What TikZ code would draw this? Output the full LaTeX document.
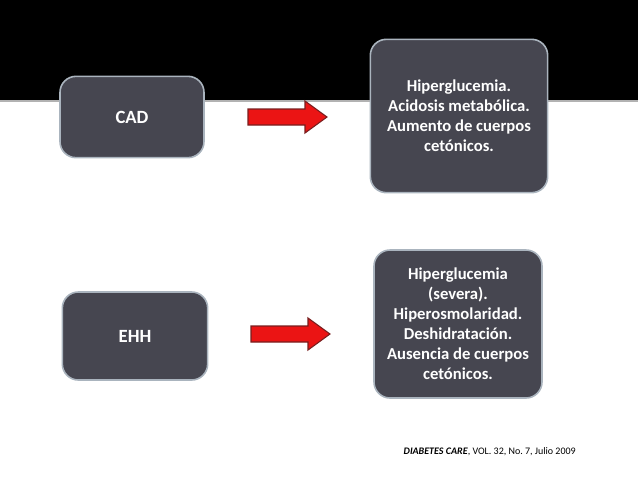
\documentclass[tikz,border=0pt]{standalone}
\usepackage{fontspec}
\setmainfont{Carlito}
\usetikzlibrary{positioning}
\definecolor{boxgray}{RGB}{70,70,80}
\definecolor{boxedge}{RGB}{170,180,190}
\definecolor{arrred}{RGB}{235,20,20}
\definecolor{arredge}{RGB}{120,30,30}
\newcommand{\redarrow}[2]{% tail x, centre y
  \draw[draw=arredge,fill=arrred,line width=0.8pt]
    (#1,#2-8) -- ++(57,0) -- ++(0,-8) -- ++(22,16) -- ++(-22,16) -- ++(0,-8) -- ++(-57,0) -- cycle;}
\begin{document}
\begin{tikzpicture}[x=0.75pt,y=-0.75pt,
    box/.style={draw=boxedge,line width=1.2pt,fill=boxgray,rounded corners=12pt,
      text=white,font=\bfseries\fontsize{12.5}{15}\selectfont,align=center,inner sep=0pt}]
    \useasboundingbox (0,0) rectangle (638,479);
    \fill[black] (0,0) rectangle (638,100);
    \draw[gray!60,line width=1pt] (0,101) -- (638,101);

    \node[box,minimum width=108pt,minimum height=61pt,font=\bfseries\fontsize{14}{16}\selectfont] (cad) at (132,117) {CAD};
    \node[box,minimum width=133pt,minimum height=115pt] (cadinfo) at (459,116)
      {Hiperglucemia.\\Acidosis metabólica.\\Aumento de cuerpos\\cetónicos.};
    \redarrow{248}{117}

    \node[box,minimum width=109pt,minimum height=66pt,font=\bfseries\fontsize{14}{16}\selectfont] (ehh) at (135,336) {EHH};
    \node[box,minimum width=126pt,minimum height=111pt] (ehhinfo) at (458,324)
      {Hiperglucemia\\(severa).\\Hiperosmolaridad.\\Deshidratación.\\Ausencia de cuerpos\\cetónicos.};
    \redarrow{251}{334}

    \node[font=\fontsize{7.5}{9}\selectfont,anchor=west] (cita) at (399,452)
      {\textbf{\textit{DIABETES CARE}}, VOL. 32, No.\ 7, Julio 2009};
\end{tikzpicture}
\end{document}
